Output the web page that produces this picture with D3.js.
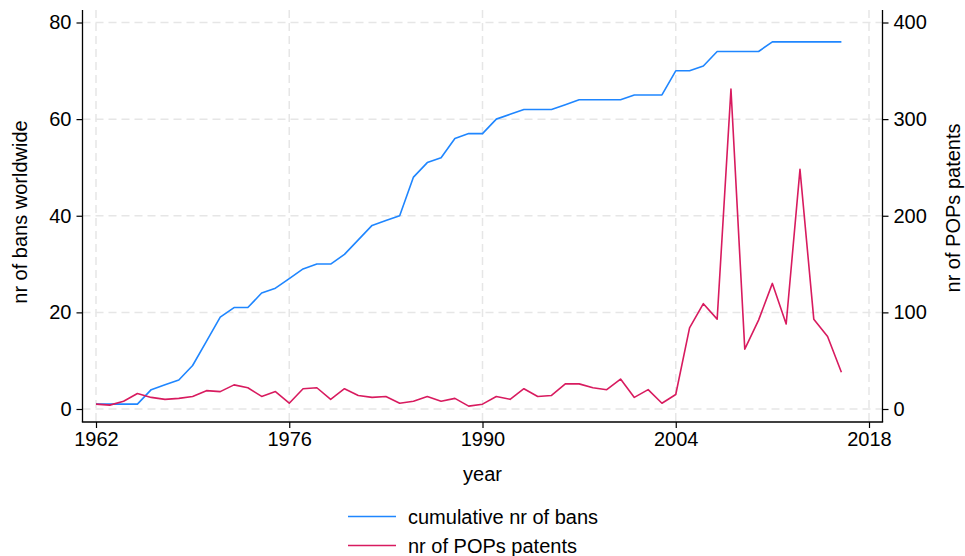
<!DOCTYPE html>
<html>
<head>
<meta charset="utf-8">
<script src="https://cdn.jsdelivr.net/npm/d3@7"></script>
<style>
  html, body { margin: 0; padding: 0; background: #fff; }
  svg { display: block; font-family: "Liberation Sans", Arial, Helvetica, sans-serif; }
</style>
</head>
<body>
<svg id="chart" width="965" height="556"></svg>
<script>
// Years 1962–2016
const years = d3.range(1962, 2017);

// Cumulative number of bans worldwide (left axis)
const bans = [
  1, 1, 1, 1, 4, 5, 6, 9, 14, 19,
  21, 21, 24, 25, 27, 29, 30, 30, 32, 35,
  38, 39, 40, 48, 51, 52, 56, 57, 57, 60,
  61, 62, 62, 62, 63, 64, 64, 64, 64, 65,
  65, 65, 70, 70, 71, 74, 74, 74, 74, 76,
  76, 76, 76, 76, 76
];

// Number of POPs patents per year (right axis)
const patents = [
  5, 4, 8, 16, 12, 10, 11, 13, 19, 18,
  25, 22, 13, 18, 6, 21, 22, 10, 21, 14,
  12, 13, 6, 8, 13, 8, 11, 3, 5, 13,
  10, 21, 13, 14, 26, 26, 22, 20, 31, 12,
  20, 6, 15, 84, 109, 93, 331, 62, 92, 130,
  88, 248, 93, 75, 38
];

const xTicks = [1962, 1976, 1990, 2004, 2018];
const leftTicks = [0, 20, 40, 60, 80];
const rightTicks = [0, 100, 200, 300, 400];

const seriesNames = ["cumulative nr of bans", "nr of POPs patents"];
const colors = ["#1f86ff", "#d81b5f"];

const svg = d3.select("#chart");
const frame = { left: 82.5, right: 882.5, top: 10, bottom: 422 };

const x = d3.scaleLinear().domain([1962, 2018]).range([96, 869]);
const yL = d3.scaleLinear().domain([0, 80]).range([409, 22.5]);
const yR = d3.scaleLinear().domain([0, 400]).range([409, 22.5]);

const fontSize = 20;
const gridColor = "#e6e6e6";

// Dashed grid
const grid = svg.append("g");
grid.selectAll("line.h").data(leftTicks).join("line")
  .attr("x1", frame.left).attr("x2", frame.right)
  .attr("y1", d => yL(d)).attr("y2", d => yL(d))
  .attr("stroke", gridColor).attr("stroke-width", 1.5)
  .attr("stroke-dasharray", "8,5");
grid.selectAll("line.v").data(xTicks).join("line")
  .attr("x1", d => x(d)).attr("x2", d => x(d))
  .attr("y1", frame.top).attr("y2", frame.bottom)
  .attr("stroke", gridColor).attr("stroke-width", 1.5)
  .attr("stroke-dasharray", "8,5");

// Axes
function styleAxis(g) {
  g.select(".domain").remove();
  g.selectAll(".tick line").attr("stroke", "#000").attr("stroke-width", 1.2);
  g.selectAll(".tick text").attr("fill", "#000")
    .style("font-size", fontSize + "px");
}

svg.append("g")
  .attr("transform", `translate(0,${frame.bottom})`)
  .call(d3.axisBottom(x).tickValues(xTicks).tickFormat(d3.format("d"))
    .tickSize(6).tickPadding(4))
  .call(styleAxis);

svg.append("g")
  .attr("transform", `translate(${frame.left},0)`)
  .call(d3.axisLeft(yL).tickValues(leftTicks).tickSize(6).tickPadding(5))
  .call(styleAxis);

svg.append("g")
  .attr("transform", `translate(${frame.right},0)`)
  .call(d3.axisRight(yR).tickValues(rightTicks).tickSize(6).tickPadding(5))
  .call(styleAxis);

// Axis lines
const axisLines = svg.append("g").attr("stroke", "#000").attr("stroke-width", 1.3);
axisLines.append("line").attr("x1", frame.left).attr("x2", frame.left)
  .attr("y1", frame.top).attr("y2", frame.bottom);
axisLines.append("line").attr("x1", frame.right).attr("x2", frame.right)
  .attr("y1", frame.top).attr("y2", frame.bottom);
axisLines.append("line").attr("x1", frame.left - 0.65).attr("x2", frame.right + 0.65)
  .attr("y1", frame.bottom).attr("y2", frame.bottom);

// Series lines
const lineL = d3.line().x((d, i) => x(years[i])).y(d => yL(d));
const lineR = d3.line().x((d, i) => x(years[i])).y(d => yR(d));

svg.append("path").datum(bans)
  .attr("d", lineL).attr("fill", "none")
  .attr("stroke", colors[0]).attr("stroke-width", 1.6)
  .attr("stroke-linejoin", "round");

svg.append("path").datum(patents)
  .attr("d", lineR).attr("fill", "none")
  .attr("stroke", colors[1]).attr("stroke-width", 1.6)
  .attr("stroke-linejoin", "round");

// Axis titles
svg.append("text")
  .attr("transform", `translate(27,212) rotate(-90)`)
  .attr("text-anchor", "middle")
  .style("font-size", fontSize + "px")
  .text("nr of bans worldwide");

svg.append("text")
  .attr("transform", `translate(960,208) rotate(-90)`)
  .attr("text-anchor", "middle")
  .style("font-size", fontSize + "px")
  .text("nr of POPs patents");

svg.append("text")
  .attr("x", (x(1962) + x(2018)) / 2).attr("y", 481)
  .attr("text-anchor", "middle")
  .style("font-size", fontSize + "px")
  .text("year");

// Legend
const legend = svg.append("g");
const legendRows = [516.5, 545.5];
seriesNames.forEach((name, i) => {
  legend.append("line")
    .attr("x1", 348).attr("x2", 396)
    .attr("y1", legendRows[i]).attr("y2", legendRows[i])
    .attr("stroke", colors[i]).attr("stroke-width", 1.6);
  legend.append("text")
    .attr("x", 408).attr("y", legendRows[i] + 7)
    .style("font-size", fontSize + "px")
    .text(name);
});
</script>
</body>
</html>
